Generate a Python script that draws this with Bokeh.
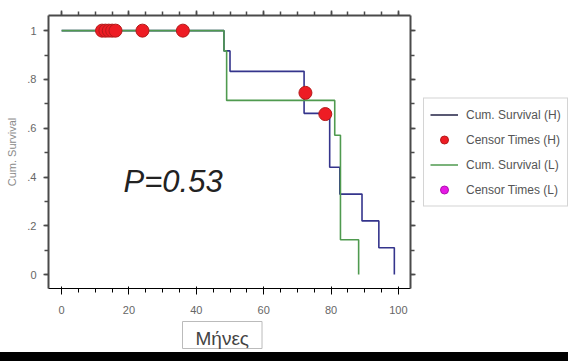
from bokeh.plotting import figure
from bokeh.layouts import row
from bokeh.models import (LinearAxis, FixedTicker, Range1d, Legend, LegendItem, Label, Title,
                          ColumnDataSource, GlobalInlineStyleSheet)
from bokeh.embed import file_html
from bokeh.resources import INLINE

# ---- data ----
h_time = [0, 48.2, 50.0, 72.0, 79.6, 82.6, 89.2, 94.2, 98.8]
h_surv = [1.0, 0.917, 0.833, 0.661, 0.44, 0.33, 0.22, 0.11, 0.0]
l_time = [0, 48.2, 49.0, 81.1, 82.8, 88.2]
l_surv = [1.0, 0.917, 0.714, 0.571, 0.143, 0.0]
h_cens_time = [12, 13, 14, 15, 16, 24, 36, 72.4, 78.3]
h_cens_surv = [1.0, 1.0, 1.0, 1.0, 1.0, 1.0, 1.0, 0.745, 0.658]
l_cens_time = []
l_cens_surv = []
x_ticks = [0, 20, 40, 60, 80, 100]
x_minor = [0, 5, 10, 15, 20, 25, 30, 35, 40, 45, 50, 55, 60, 65, 70, 75, 80, 85, 90, 95, 100]
y_ticks = [0.0, 0.2, 0.4, 0.6, 0.8, 1.0]
y_minor = [0.0, 0.1, 0.2, 0.3, 0.4, 0.5, 0.6, 0.7, 0.8, 0.9, 1.0]
y_tick_labels = ["0", ".2", ".4", ".6", ".8", "1"]
legend_labels = ["Cum. Survival (H)", "Censor Times (H)", "Cum. Survival (L)", "Censor Times (L)"]
p_value_text = "P=0.53"
x_label = "Μήνες"
y_label = "Cum. Survival"

h_color = "#34348c"
l_color = "#4f9a4f"
hc_fill, hc_line = "#ee1c24", "#b51a1a"
lc_fill, lc_line = "#e619e6", "#b010b0"

band_css = GlobalInlineStyleSheet(css="html{background:linear-gradient(to bottom,#fff 0,#fff 352px,#000 352px,#000 100%);}")

# ---------------- main plot ----------------
p = figure(width=418, height=352, output_backend="svg", toolbar_location=None,
           x_range=Range1d(-3.9, 103.6), y_range=Range1d(-0.057, 1.062),
           min_border_left=48, min_border_right=8, min_border_top=15, min_border_bottom=64,
           stylesheets=[band_css])
p.outline_line_color = None
p.grid.visible = False
p.background_fill_color = "white"
p.border_fill_color = "white"

axis_col = "#4a4a4a"
lab_col = "#666666"

xt = FixedTicker(ticks=x_ticks, minor_ticks=x_minor)
yt = FixedTicker(ticks=y_ticks, minor_ticks=y_minor)

for ax in p.xaxis:
    ax.ticker = xt
    ax.major_label_text_font = "Liberation Sans"
    ax.major_label_text_font_size = "11px"
    ax.major_label_text_color = lab_col
    ax.major_label_standoff = 11
for ax in p.yaxis:
    ax.ticker = yt
    ax.major_label_overrides = {v: s for v, s in zip(y_ticks, y_tick_labels)}
    ax.major_label_text_font = "Liberation Sans"
    ax.major_label_text_font_size = "11px"
    ax.major_label_text_color = lab_col
    ax.major_label_standoff = 7
    ax.axis_label = y_label
    ax.axis_label_text_font = "Liberation Sans"
    ax.axis_label_text_font_size = "11px"
    ax.axis_label_text_font_style = "normal"
    ax.axis_label_text_color = "#8a8a8a"
    ax.axis_label_standoff = 6

# top and right axes: ticks only, no labels
top_ax = LinearAxis(ticker=xt, major_label_overrides={v: "" for v in x_ticks},
                    major_label_standoff=0, major_label_text_font_size="1px")
right_ax = LinearAxis(ticker=yt, major_label_overrides={v: "" for v in y_ticks},
                      major_label_standoff=0, major_label_text_font_size="1px")
p.add_layout(top_ax, "above")
p.add_layout(right_ax, "right")

for ax in [p.xaxis[0], p.yaxis[0], top_ax, right_ax]:
    ax.axis_line_color = axis_col
    ax.axis_line_width = 2
    ax.major_tick_line_color = axis_col
    ax.minor_tick_line_color = axis_col
    ax.major_tick_line_width = 1.5
    ax.minor_tick_line_width = 1.5
    ax.major_tick_in = 0
    ax.major_tick_out = 5
    ax.minor_tick_in = 0
    ax.minor_tick_out = 4

src_h = ColumnDataSource(dict(t=h_time, s=h_surv))
src_l = ColumnDataSource(dict(t=l_time, s=l_surv))
src_hc = ColumnDataSource(dict(t=h_cens_time, s=h_cens_surv))
src_lc = ColumnDataSource(dict(t=l_cens_time, s=l_cens_surv))

p.step("t", "s", source=src_h, mode="after", line_color=h_color, line_width=1.6)
p.step("t", "s", source=src_l, mode="after", line_color=l_color, line_width=1.6)
p.scatter("t", "s", source=src_hc, size=13, fill_color=hc_fill, line_color=hc_line, line_width=1)
p.scatter("t", "s", source=src_lc, size=13, fill_color=lc_fill, line_color=lc_line, line_width=1)

p.add_layout(Label(x=18.4, y=0.382, text=p_value_text, text_font="Liberation Sans",
                   text_font_style="italic", text_font_size="31px", text_color="#222222",
                   text_baseline="alphabetic", text_align="left"))

p.add_layout(Title(text=x_label, align="left", offset=134, standoff=6,
                   text_font="Liberation Sans", text_font_size="19px",
                   text_font_style="normal", text_color="#444444",
                   border_line_color="#bbbbbb", border_line_width=1,
                   background_fill_color="white",
                   padding=dict(left=13, right=13, top=6, bottom=0)), "below")

# ---------------- legend panel ----------------
lg = figure(width=150, height=352, output_backend="svg", toolbar_location=None,
            x_range=Range1d(0, 1), y_range=Range1d(0, 1),
            min_border_left=0, min_border_right=0, min_border_top=0, min_border_bottom=50,
            x_axis_type=None, y_axis_type=None)
lg.outline_line_color = None
lg.grid.visible = False
lg.background_fill_color = "white"
lg.border_fill_color = "white"

# legend-only renderers (not shown in this panel; only their legend swatches are drawn)
lsrc = ColumnDataSource(dict(t=[float("nan")], s=[float("nan")]))
g_h = lg.line("t", "s", source=lsrc, line_color="#222244", line_width=1.6)
g_hc = lg.scatter("t", "s", source=lsrc, size=13, fill_color=hc_fill, line_color=hc_line, line_width=1)
g_l = lg.line("t", "s", source=lsrc, line_color=l_color, line_width=1.6)
g_lc = lg.scatter("t", "s", source=lsrc, size=13, fill_color=lc_fill, line_color=lc_line, line_width=1)

legend = Legend(items=[LegendItem(label=legend_labels[0], renderers=[g_h]),
                       LegendItem(label=legend_labels[1], renderers=[g_hc]),
                       LegendItem(label=legend_labels[2], renderers=[g_l]),
                       LegendItem(label=legend_labels[3], renderers=[g_lc])],
                location="center_left")
legend.border_line_color = "#aaaaaa"
legend.border_line_width = 1
legend.background_fill_color = "white"
legend.background_fill_alpha = 1
legend.label_text_font = "Liberation Sans"
legend.label_text_font_size = "12px"
legend.label_text_color = "#555555"
legend.glyph_width = 28
legend.glyph_height = 20
legend.label_height = 20
legend.spacing = 5
legend.padding = 6
legend.margin = 5
legend.label_standoff = 8
lg.add_layout(legend)

layout = row(p, lg, spacing=0)
open("out.html", "w").write(file_html(layout, INLINE))
